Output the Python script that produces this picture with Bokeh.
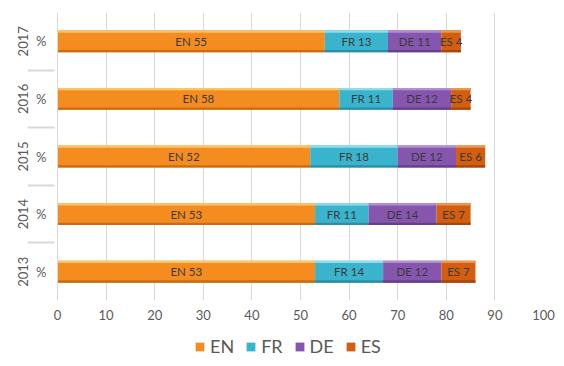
from bokeh.plotting import figure
from bokeh.layouts import column
from bokeh.models import FactorRange, ColumnDataSource, Legend, LegendItem, FixedTicker
from bokeh.core.properties import value
from bokeh.transform import dodge
from bokeh.embed import file_html
from bokeh.resources import INLINE

years = ["2013", "2014", "2015", "2016", "2017"]
unit = "%"
langs = ["EN", "FR", "DE", "ES"]
en = [53, 53, 52, 58, 55]
fr = [14, 11, 18, 11, 13]
de = [12, 14, 12, 12, 11]
es = [7, 7, 6, 4, 4]
x_ticks = [0, 10, 20, 30, 40, 50, 60, 70, 80, 90, 100]

colors = ["#F48C20", "#3AB4CD", "#8656AE", "#D35E10"]
top_colors = ["#FBC46A", "#8FDCEA", "#B190D0", "#EC9650"]
bot_colors = ["#CC6C12", "#2A8FA6", "#653F8A", "#A3470B"]
FONT = "Lato"

factors = [(y, unit) for y in years]
data = {"y": factors, "EN": en, "FR": fr, "DE": de, "ES": es}
src = ColumnDataSource(data)

p = figure(y_range=FactorRange(*factors, group_padding=0, factor_padding=0, range_padding=0),
           x_range=(0, 100), width=564, height=330,
           output_backend="svg", toolbar_location=None,
           min_border_left=57, min_border_right=21, min_border_top=12, min_border_bottom=30)
p.outline_line_color = None
p.background_fill_color = "white"

renderers = p.hbar_stack(langs, y="y", height=0.38, color=colors, source=src,
                         line_color=None)
p.hbar_stack(langs, y=dodge("y", 0.17, range=p.y_range), height=0.04, color=top_colors,
             source=src, line_color=None)
p.hbar_stack(langs, y=dodge("y", -0.17, range=p.y_range), height=0.04, color=bot_colors,
             source=src, line_color=None)

# label texts
series = {"EN": en, "FR": fr, "DE": de, "ES": es}
lx, ly, lt = [], [], []
for i, f in enumerate(factors):
    left = 0
    for lang in langs:
        v = series[lang][i]
        lx.append(left + v / 2)
        ly.append(f)
        lt.append(f"{lang} {v}")
        left += v
lsrc = ColumnDataSource(dict(x=lx, y=ly, t=lt))
p.text(x="x", y="y", text="t", source=lsrc, text_align="center", text_baseline="middle",
       text_font=value(FONT), text_font_size="11.5px", text_color="#3a3a3a")

p.xaxis.ticker = FixedTicker(ticks=x_ticks)
p.xaxis.axis_line_color = None
p.xaxis.major_tick_line_color = None
p.xaxis.minor_tick_line_color = None
p.xaxis.major_tick_out = 0
p.xaxis.major_label_text_font = FONT
p.xaxis.major_label_text_font_size = "13px"
p.xaxis.major_label_text_color = "#595959"
p.xaxis.major_label_standoff = 9

p.xgrid.grid_line_color = "#D9D9D9"
p.ygrid.grid_line_color = None

ya = p.yaxis[0]
ya.axis_line_color = "#D9D9D9"
ya.major_tick_line_color = None
ya.minor_tick_line_color = None
ya.major_label_text_font = FONT
ya.major_label_text_font_size = "13px"
ya.major_label_text_color = "#595959"
ya.group_text_font = FONT
ya.group_text_font_size = "13px"
ya.group_text_color = "#595959"
ya.group_text_font_style = "normal"
ya.group_label_orientation = "vertical"
ya.separator_line_color = "#D9D9D9"

# legend in a separate strip below
lf = figure(width=564, height=36, output_backend="svg", toolbar_location=None,
            min_border_left=0, min_border_right=0, min_border_top=0, min_border_bottom=0,
            x_range=(0, 1), y_range=(0, 1))
lf.axis.visible = False
lf.grid.visible = False
lf.outline_line_color = None
dummy = ColumnDataSource({"y": [-5], "EN": [0], "FR": [0], "DE": [0], "ES": [0]})
lr = lf.hbar_stack(langs, y="y", height=0.5, color=colors, source=dummy, line_color=None)
legend = Legend(items=[LegendItem(label=l, renderers=[r]) for l, r in zip(langs, lr)],
                orientation="horizontal", location=(137, 9),
                label_text_font=FONT, label_text_font_size="18px", label_text_color="#595959",
                glyph_width=11, glyph_height=11, spacing=11, label_standoff=5,
                border_line_color=None, background_fill_alpha=0, padding=3, margin=0)
lf.add_layout(legend, "center")

layout = column(p, lf, spacing=0)
open("out.html", "w").write(file_html(layout, INLINE))
